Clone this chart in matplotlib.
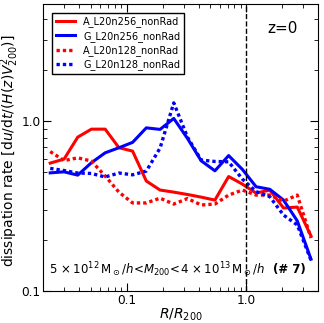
import numpy as np
import matplotlib.pyplot as plt
from matplotlib.ticker import FixedLocator, FixedFormatter, NullFormatter, LogLocator

# bin centres in R/R200
r = [0.0228, 0.0298, 0.0388, 0.0505, 0.0659, 0.0859, 0.1119, 0.1458, 0.1901, 0.2477,
     0.3228, 0.4207, 0.5483, 0.7146, 0.9315, 1.214, 1.582, 2.062, 2.688, 3.503]

a_256 = [0.566, 0.598, 0.805, 0.897, 0.897, 0.698, 0.666, 0.444, 0.393, 0.382,
         0.370, 0.357, 0.343, 0.472, 0.426, 0.377, 0.393, 0.308, 0.312, 0.211]
g_256 = [0.496, 0.503, 0.481, 0.569, 0.651, 0.697, 0.750, 0.913, 0.894, 1.037,
         0.791, 0.584, 0.510, 0.627, 0.520, 0.411, 0.397, 0.343, 0.259, 0.154]
a_128 = [0.662, 0.586, 0.608, 0.582, 0.475, 0.382, 0.330, 0.330, 0.352, 0.325,
         0.350, 0.321, 0.325, 0.367, 0.393, 0.367, 0.367, 0.338, 0.367, 0.205]
g_128 = [0.527, 0.512, 0.495, 0.492, 0.469, 0.495, 0.483, 0.508, 0.694, 1.281,
         0.805, 0.590, 0.579, 0.576, 0.456, 0.385, 0.359, 0.280, 0.245, 0.152]

fig = plt.figure(figsize=(3.24, 3.23), dpi=100)
ax = fig.add_axes([0.134, 0.099, 0.847, 0.889])

dots = (0, (1.0, 0.9))
ax.plot(r, a_256, '-', color='red', lw=2.2, label='A_L20n256_nonRad')
ax.plot(r, g_256, '-', color='blue', lw=2.2, label='G_L20n256_nonRad')
ax.plot(r, a_128, ls=dots, color='red', lw=2.4, label='A_L20n128_nonRad')
ax.plot(r, g_128, ls=dots, color='blue', lw=2.4, label='G_L20n128_nonRad')
ax.axvline(1.0, color='black', ls='--', lw=1.0)

ax.set_xscale('log')
ax.set_yscale('log')
ax.set_xlim(0.02, 4)
ax.set_ylim(0.1, 4.9)

ax.xaxis.set_major_locator(FixedLocator([0.1, 1.0]))
ax.xaxis.set_major_formatter(FixedFormatter(['0.1', '1.0']))
ax.yaxis.set_major_locator(FixedLocator([0.1, 1.0]))
ax.yaxis.set_major_formatter(FixedFormatter(['0.1', '1.0']))
ax.xaxis.set_minor_locator(LogLocator(base=10, subs=np.arange(2, 10)))
ax.yaxis.set_minor_locator(LogLocator(base=10, subs=np.arange(2, 10)))
ax.xaxis.set_minor_formatter(NullFormatter())
ax.yaxis.set_minor_formatter(NullFormatter())
ax.tick_params(which='both', direction='in', top=True, right=True, labelsize=8.7)
ax.tick_params(which='major', length=6, pad=2)
ax.tick_params(which='minor', length=3)

ax.set_xlabel(r'$R/R_{200}$', fontsize=10, labelpad=0)
ax.set_ylabel(r'dissipation rate $[\mathrm{d}u/\mathrm{d}t/(H(z)V_{200}^2)]$',
              fontsize=10)
ax.yaxis.set_label_coords(-0.083, 0.49)

ax.legend(loc='upper left', fontsize=7, handlelength=2.0, borderaxespad=0.9,
          labelspacing=0.35, fancybox=False, edgecolor='black', framealpha=1)
ax.text(0.87, 0.9, 'z=0', transform=ax.transAxes, fontsize=11, ha='center')
ax.text(0.02, 0.075,
        r'$5\,\times10^{12}\,\mathrm{M}_\odot/h\!<\!M_{200}\!<\!4\,\times10^{13}\,\mathrm{M}_\odot/h$',
        transform=ax.transAxes, fontsize=8.5, ha='left', va='center')
ax.text(0.955, 0.075, '(# 7)', transform=ax.transAxes, fontsize=8.5,
        fontweight='bold', ha='right', va='center')

plt.savefig('out.png', dpi=100)
